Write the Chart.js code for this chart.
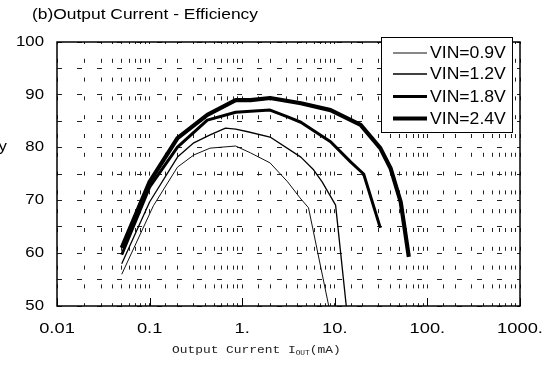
<!DOCTYPE html>
<html>
<head>
<meta charset="utf-8">
<script src="https://cdn.jsdelivr.net/npm/chart.js@4/dist/chart.umd.min.js"></script>
<style>
  html, body { margin: 0; padding: 0; background: #fff; }
  #wrap { width: 558px; height: 367px; }
</style>
</head>
<body>
<div id="wrap"><canvas id="effChart" width="558" height="367"></canvas></div>
<script>
// Output current (mA) vs efficiency (%), one pair of arrays per input voltage
var iout09 = [0.05, 0.11, 0.2, 0.3, 0.45, 0.85, 1.23, 2, 3.1, 4.2, 5.2, 8.6];
var eff09  = [56, 69, 76.3, 78.6, 79.9, 80.3, 79.0, 77.1, 73.5, 70.5, 68.6, 50];

var iout12 = [0.05, 0.1, 0.2, 0.3, 0.45, 0.66, 0.85, 1.15, 2, 4.3, 5.9, 7.3, 10.2, 13.3];
var eff12  = [58, 69.7, 78.2, 80.9, 82.4, 83.7, 83.5, 83.0, 82.0, 78.2, 75.8, 73.5, 69.1, 50];

var iout18 = [0.05, 0.1, 0.2, 0.42, 0.85, 1.23, 2, 3.1, 4.3, 9, 14.8, 20.5, 31];
var eff18  = [59.7, 72.5, 80.1, 85.2, 86.7, 86.9, 87.1, 85.8, 84.8, 81.1, 77.3, 75, 64.8];

var iout24 = [0.05, 0.1, 0.2, 0.42, 0.85, 1.23, 2, 4.3, 9, 19, 31, 40, 51.5, 63];
var eff24  = [61, 73.5, 81.8, 86.2, 89.0, 89.0, 89.4, 88.4, 87.1, 84.3, 79.9, 76.1, 69.7, 59.3];

var seriesNames = ["VIN=0.9V", "VIN=1.2V", "VIN=1.8V", "VIN=2.4V"];

var xTickValues = [0.01, 0.1, 1, 10, 100, 1000];
var xTickLabels = ["0.01", "0.1", "1.", "10.", "100.", "1000."];
var yTickValues = [50, 60, 70, 80, 90, 100];

function pairs(xs, ys) {
  return xs.map(function (x, i) { return { x: x, y: ys[i] }; });
}

// text helper, the original has slightly wide lettering
function wideText(ctx, text, x, y, font, align, sx) {
  ctx.save();
  ctx.font = font;
  ctx.textBaseline = "middle";
  ctx.translate(x, y);
  ctx.scale(sx, 1);
  var w = ctx.measureText(text).width;
  var dx = align === "right" ? -w : (align === "center" ? -w / 2 : 0);
  ctx.fillText(text, dx, 0);
  ctx.restore();
  return w * sx;
}

var decorations = {
  id: "decorations",
  afterDraw: function (chart) {
    var ctx = chart.ctx;
    var ca = chart.chartArea;
    var xs = chart.scales.x;
    var ys = chart.scales.y;
    ctx.save();
    ctx.fillStyle = "#000";
    ctx.strokeStyle = "#000";

    // plot frame
    ctx.lineWidth = 1.5;
    ctx.strokeRect(ca.left, ca.top, ca.right - ca.left, ca.bottom - ca.top);

    // decade ticks on the bottom edge
    ctx.lineWidth = 1;
    xTickValues.forEach(function (v) {
      var px = Math.round(xs.getPixelForValue(v)) + 0.5;
      ctx.beginPath();
      ctx.moveTo(px, ca.bottom);
      ctx.lineTo(px, ca.bottom - 8);
      ctx.stroke();
    });

    // tick labels
    xTickValues.forEach(function (v, i) {
      wideText(ctx, xTickLabels[i], xs.getPixelForValue(v), 329, "15px 'Liberation Sans', Arial", "center", 1.22);
    });
    yTickValues.forEach(function (v) {
      wideText(ctx, String(v), 44, ys.getPixelForValue(v), "14px 'Liberation Sans', Arial", "right", 1.2);
    });

    // titles
    wideText(ctx, "(b)Output Current - Efficiency", 32, 15, "15px 'Liberation Sans', Arial", "left", 1.16);
    wideText(ctx, "Efficiency", 7, 147, "14px 'Liberation Sans', Arial", "right", 1.2);

    ctx.fillStyle = "#222";
    var mono = "'Liberation Mono', 'DejaVu Sans Mono', monospace";
    var tx = 172;
    tx += wideText(ctx, "Output Current I", tx, 350, "11.5px " + mono, "left", 1.12);
    tx += wideText(ctx, "OUT", tx, 353, "7px " + mono, "left", 1.12);
    wideText(ctx, "(mA)", tx, 350, "11.5px " + mono, "left", 1.12);

    // legend box inside the plot
    ctx.fillStyle = "#fff";
    ctx.fillRect(381, 37.5, 132, 95);
    ctx.strokeStyle = "#000";
    ctx.lineWidth = 1;
    ctx.strokeRect(381.5, 37.5, 131, 95);
    var rows = [53, 74, 96.5, 118.5];
    chart.data.datasets.forEach(function (ds, i) {
      ctx.strokeStyle = ds.borderColor;
      ctx.lineWidth = ds.borderWidth;
      ctx.beginPath();
      ctx.moveTo(393, rows[i]);
      ctx.lineTo(427, rows[i]);
      ctx.stroke();
      ctx.fillStyle = "#000";
      wideText(ctx, ds.label, 430, rows[i] + 1, "16px 'Liberation Sans', Arial", "left", 1.1);
    });
    ctx.restore();
  }
};

new Chart("effChart", {
  type: "line",
  data: {
    datasets: [
      { label: seriesNames[0], data: pairs(iout09, eff09), borderColor: "#111", borderWidth: 1 },
      { label: seriesNames[1], data: pairs(iout12, eff12), borderColor: "#000", borderWidth: 1.3 },
      { label: seriesNames[2], data: pairs(iout18, eff18), borderColor: "#000", borderWidth: 3 },
      { label: seriesNames[3], data: pairs(iout24, eff24), borderColor: "#000", borderWidth: 4.2 }
    ]
  },
  options: {
    responsive: false,
    animation: false,
    layout: { padding: { left: 57, right: 38, top: 42, bottom: 61 } },
    elements: {
      point: { radius: 0 },
      line: { tension: 0, borderJoinStyle: "round", borderCapStyle: "butt" }
    },
    plugins: {
      legend: { display: false },
      title: { display: false },
      tooltip: { enabled: false }
    },
    scales: {
      x: {
        type: "logarithmic",
        min: 0.01,
        max: 1000,
        ticks: { display: false, autoSkip: false },
        grid: { color: "#222", lineWidth: 1, drawTicks: false },
        border: { display: false, dash: [4, 14.8], dashOffset: 2 }
      },
      y: {
        min: 50,
        max: 100,
        ticks: { display: false, stepSize: 5 },
        grid: { color: "#222", lineWidth: 1, drawTicks: false },
        border: { display: false, dash: [5, 15] }
      }
    }
  },
  plugins: [decorations]
});
</script>
</body>
</html>
